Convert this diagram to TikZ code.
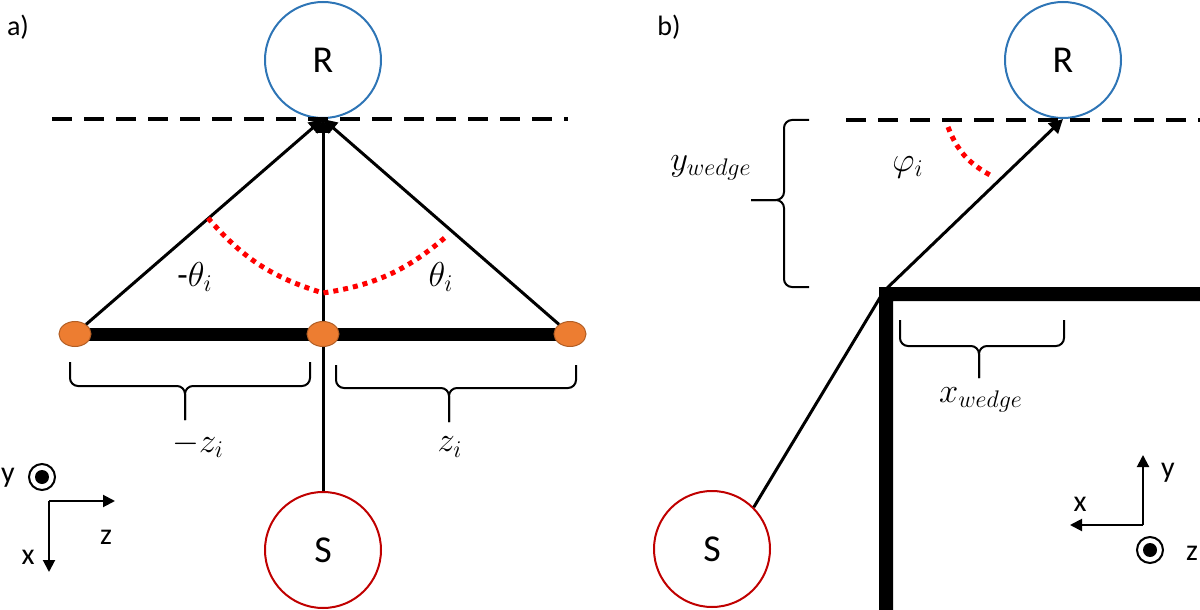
\documentclass[tikz,border=0pt]{standalone}
\usepackage{fontspec}
\setmainfont{Carlito}
\usetikzlibrary{arrows.meta,shapes.geometric}
\definecolor{rblue}{HTML}{2E75B6}
\definecolor{sred}{HTML}{C00000}
\definecolor{morange}{HTML}{ED7D31}
\tikzset{
  sensor/.style={circle, draw, line width=1pt, minimum size=58pt, inner sep=0pt,
    font=\fontsize{19}{20}\selectfont},
  receiver/.style={sensor, draw=rblue},
  source/.style={sensor, draw=sred},
  mic/.style={ellipse, fill=morange, draw=morange!75!black, line width=0.5pt,
    minimum width=16pt, minimum height=12.5pt, inner sep=0pt},
  ray/.style={line width=1.5pt, -{Triangle[length=7pt,width=7pt]}},
  plainray/.style={line width=1.5pt},
  horizon/.style={line width=1.6pt, dash pattern=on 10pt off 6pt},
  angdots/.style={red, line width=2.5pt, dash pattern=on 2.5pt off 2.5pt},
  bracket/.style={line width=1pt, rounded corners=4pt},
  axis/.style={line width=1pt, -{Triangle[length=6pt,width=6pt]}},
  lbl/.style={font=\fontsize{15}{16}\selectfont, inner sep=1pt},
  mlbl/.style={font=\fontsize{17}{18}\selectfont, inner sep=1pt},
  tag/.style={font=\fontsize{14}{15}\selectfont, inner sep=1pt},
  bullseye/.style={circle, draw, line width=1pt, minimum size=13pt, inner sep=0pt},
}
\begin{document}
\begin{tikzpicture}[x=0.5pt,y=0.5pt]
\useasboundingbox (0,0) rectangle (1200,-610);

% a) line array
\node[tag] (taga) at (18,-27) {a)};
\node[receiver] (Ra) at (323,-60) {R};
\node[source] (Sa) at (323,-550) {S};
\draw[horizon] (52,-119) -- (568,-119);
\draw[ray] (Sa) -- (Ra.south);
\draw[line width=6.5pt] (75,-334) -- (570,-334);
\node[mic] (d1) at (75,-334) {};
\node[mic] (d2) at (323,-334) {};
\node[mic] (d3) at (570,-334) {};
\draw[ray] (d1) -- (Ra.south);
\draw[ray] (d3) -- (Ra.south);
\draw[angdots] (208,-218) to[bend right=16] (323,-293) to[bend right=16] (448,-235);
\node[mlbl] (thl) at (195,-277) {-$\theta_i$};
\node[mlbl] (thr) at (441,-277) {$\theta_i$};

\draw[bracket] (70,-362) -- (70,-386) -- (185,-386) -- (185,-420);
\draw[bracket] (310,-362) -- (310,-386) -- (185,-386) -- (185,-420);
\draw[bracket] (336,-365) -- (336,-388) -- (449,-388) -- (449,-422);
\draw[bracket] (576,-365) -- (576,-388) -- (449,-388) -- (449,-422);
\node[mlbl] (zl) at (198,-445) {$-z_i$};
\node[mlbl] (zr) at (450,-447) {$z_i$};

\coordinate (oa) at (49,-501);
\draw[axis] (oa) -- (115,-501);
\draw[axis] (oa) -- (49,-572);
\node[lbl] (za) at (106,-537) {z};
\node[lbl] (xa) at (28,-557) {x};
\node[lbl] (ya) at (8,-478) {y};
\node[bullseye] (ua) at (42,-477) {};
\fill (ua) circle (7);

% b) wedge
\node[tag] (tagb) at (669,-27) {b)};
\node[receiver] (Rb) at (1063,-60) {R};
\node[source] (Sb) at (712,-549) {S};
\draw[horizon] (846,-120) -- (1200,-120);
\fill (879,-610) -- (879,-287) -- (1200,-287) -- (1200,-301) -- (893,-301) -- (893,-610) -- cycle;
\coordinate (edge) at (884,-291);
\draw[plainray] (Sb.45) -- (edge);
\draw[ray] (edge) -- (Rb.south);
\draw[angdots] (948,-127) to[bend right=20] (990,-175);
\node[mlbl] (phi) at (908,-167) {$\varphi_i$};

\draw[bracket] (809,-120) -- (784,-120) -- (784,-200) -- (751,-200);
\draw[bracket] (809,-287) -- (784,-287) -- (784,-200) -- (751,-200);
\node[mlbl] (yw) at (711,-168) {$y_{wedge}$};
\draw[bracket] (900,-320) -- (900,-346) -- (979,-346) -- (979,-378);
\draw[bracket] (1064,-320) -- (1064,-346) -- (979,-346) -- (979,-378);
\node[mlbl] (xw) at (981,-400) {$x_{wedge}$};

\coordinate (ob) at (1143,-525);
\draw[axis] (ob) -- (1143,-455);
\draw[axis] (ob) -- (1070,-525);
\node[lbl] (yb) at (1168,-473) {y};
\node[lbl] (xb) at (1080,-504) {x};
\node[bullseye] (ub) at (1150,-550) {};
\fill (ub) circle (7);
\node[lbl] (zb) at (1192,-553) {z};
\end{tikzpicture}
\end{document}
